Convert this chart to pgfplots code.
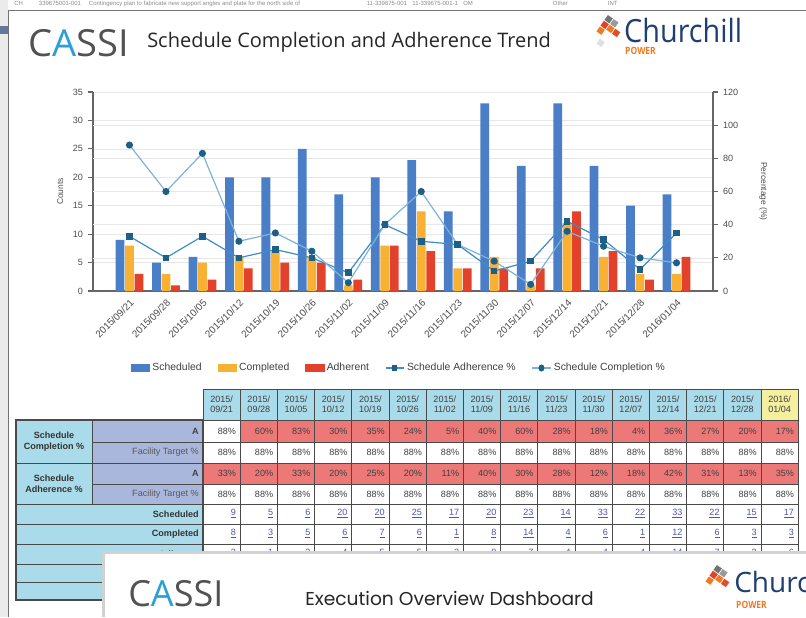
\documentclass[border=0pt]{standalone}
\usepackage{fontspec}
\setmainfont{Liberation Sans}
\newfontfamily\opensans{Open Sans}
\newfontfamily\poppins{Poppins}
\usepackage{pgfplots}
\usepackage{pgfplotstable}
\pgfplotsset{compat=1.18}
\definecolor{cSched}{HTML}{4A7EC7}
\definecolor{cComp}{HTML}{F8B133}
\definecolor{cAdh}{HTML}{E2412B}
\definecolor{cLineA}{HTML}{3E8DC4}
\definecolor{cLineC}{HTML}{7DB3D8}
\definecolor{cMark}{HTML}{1D5F86}
\definecolor{tblue}{HTML}{A9DBEA}
\definecolor{tlav}{HTML}{A9B7DC}
\definecolor{tred}{HTML}{EC7878}
\definecolor{tyel}{HTML}{F4F0A0}
\definecolor{tgrid}{HTML}{4A4A4A}
\definecolor{lnk}{HTML}{4A55B5}
\definecolor{navy}{HTML}{1F3F73}
\definecolor{corange}{HTML}{F07A22}
\definecolor{cassiblue}{HTML}{2A9FD8}

\pgfplotstableread{
x sched comp adh compp adhp
0 9 8 3 88 33
1 5 3 1 60 20
2 6 5 2 83 33
3 20 6 4 30 20
4 20 7 5 35 25
5 25 6 5 24 20
6 17 1 2 5 11
7 20 8 8 40 40
8 23 14 7 60 30
9 14 4 4 28 28
10 33 6 4 18 12
11 22 1 4 4 18
12 33 12 14 36 42
13 22 6 7 27 31
14 15 3 2 20 13
15 17 3 6 17 35
}\data

\def\cw{37.2}
\newcommand{\tf}{\fontsize{6.8}{7.6}\selectfont}

\begin{document}
\begin{tikzpicture}
\useasboundingbox (0pt,0pt) rectangle (604.5pt,-462.75pt);
\begin{scope}[x=0.75pt,y=-0.75pt]
\clip (0,0) rectangle (806,617);
\fill[white] (0,0) rectangle (806,617);
% background strips
\fill[black!8] (0,0) rectangle (8,617);
\fill[navy!70] (0,26) rectangle (8,34);
\node[anchor=west, font=\fontsize{4.5}{5}\selectfont, text=black!45, inner sep=0] at (14,4) {CH\hspace{12pt}339675001-001\hspace{6pt}Contingency plan to fabricate new support angles and plate for the north side of\hspace{50pt}11-339675-001\hspace{4pt}11-339675-001-1\hspace{4pt}OM\hspace{60pt}Other\hspace{30pt}INT};
\draw[black!55, line width=0.6pt] (8.5,10) -- (806,10);
\draw[black!55, line width=0.6pt] (8.5,10) -- (8.5,617);
% header
\node[anchor=west, inner sep=0, xscale=1.02, font=\opensans\fontsize{28}{29}\selectfont, text=black!68] at (28,43) {C\textcolor{cassiblue}{A}SSI};
\node[anchor=west, inner sep=0, font=\opensans\fontsize{15}{16}\selectfont, text=black!85] at (147,42) {Schedule Completion and Adherence Trend};
% churchill logo top
\begin{scope}[shift={(603,36)}]
\fill[black!55, rotate=-35] (-8,-20) rectangle ++(6,6);
\fill[black!40, rotate=-35] (-1,-20) rectangle ++(6,6);
\fill[cAdh, rotate=-35] (-8,-13) rectangle ++(6,6);
\fill[corange, rotate=-35] (-1,-13) rectangle ++(6,6);
\fill[corange, rotate=-35] (-8,-6) rectangle ++(6,6);
\fill[cAdh!80!corange, rotate=-35] (6,-13) rectangle ++(6,6);
\fill[black!12, rotate=-35] (-1,4) rectangle ++(6,6);
\end{scope}
\node[anchor=west, inner sep=0, xscale=0.9, font=\opensans\fontsize{24}{26}\selectfont, text=navy] at (624,31) {Churchill};
\node[anchor=west, inner sep=0, xscale=0.85, font=\opensans\bfseries\fontsize{7.5}{8}\selectfont, text=corange] at (625,51) {POWER};
% table header row
\foreach \d [count=\i from 0] in {09/21,09/28,10/05,10/12,10/19,10/26,11/02,11/09,11/16,11/23,11/30,12/07,12/14,12/21,12/28}{
  \filldraw[fill=tblue, draw=tgrid, line width=0.5pt] ({203+\cw*\i},389) rectangle ++(\cw,31);
  \node[align=center, font=\tf, text=black!75, inner sep=0] at ({203+\cw*\i+\cw/2},404.5) {2015/\\\d};
}
\filldraw[fill=tyel, draw=tgrid, line width=0.5pt] ({203+\cw*15},389) rectangle ++(\cw,31);
\node[align=center, font=\tf, text=black!75, inner sep=0] at ({203+\cw*15+\cw/2},404.5) {2016/\\01/04};
% row 1 completion A
\foreach \v/\c [count=\i from 0] in {88/white,60/tred,83/tred,30/tred,35/tred,24/tred,5/tred,40/tred,60/tred,28/tred,18/tred,4/tred,36/tred,27/tred,20/tred,17/tred}{
  \filldraw[fill=\c, draw=tgrid, line width=0.5pt] ({203+\cw*\i},420) rectangle ++(\cw,22);
  \node[anchor=east, font=\tf, text=black!75, inner sep=0] at ({203+\cw*\i+\cw-4},431) {\v\%};
}
% row 3 adherence A
\foreach \v [count=\i from 0] in {33,20,33,20,25,20,11,40,30,28,12,18,42,31,13,35}{
  \filldraw[fill=tred, draw=tgrid, line width=0.5pt] ({203+\cw*\i},463) rectangle ++(\cw,21);
  \node[anchor=east, font=\tf, text=black!75, inner sep=0] at ({203+\cw*\i+\cw-4},473.5) {\v\%};
}
% target rows
\foreach \i in {0,...,15}{
  \filldraw[fill=white, draw=tgrid, line width=0.5pt] ({203+\cw*\i},442) rectangle ++(\cw,21);
  \node[anchor=east, font=\tf, text=black!75, inner sep=0] at ({203+\cw*\i+\cw-4},452.5) {88\%};
  \filldraw[fill=white, draw=tgrid, line width=0.5pt] ({203+\cw*\i},484) rectangle ++(\cw,20);
  \node[anchor=east, font=\tf, text=black!75, inner sep=0] at ({203+\cw*\i+\cw-4},494) {88\%};
  \filldraw[fill=white, draw=tgrid, line width=0.5pt] ({203+\cw*\i},564) rectangle ++(\cw,18);
  \filldraw[fill=white, draw=tgrid, line width=0.5pt] ({203+\cw*\i},582) rectangle ++(\cw,18);
}
% count rows
\foreach \v [count=\i from 0] in {9,5,6,20,20,25,17,20,23,14,33,22,33,22,15,17}{
  \filldraw[fill=white, draw=tgrid, line width=0.5pt] ({203+\cw*\i},504) rectangle ++(\cw,20);
  \node[anchor=east, font=\tf, text=lnk, inner sep=0] at ({203+\cw*\i+\cw-4},514) {\underline{\v}};
}
\foreach \v [count=\i from 0] in {8,3,5,6,7,6,1,8,14,4,6,1,12,6,3,3}{
  \filldraw[fill=white, draw=tgrid, line width=0.5pt] ({203+\cw*\i},524) rectangle ++(\cw,20);
  \node[anchor=east, font=\tf, text=lnk, inner sep=0] at ({203+\cw*\i+\cw-4},534) {\underline{\v}};
}
\foreach \v [count=\i from 0] in {3,1,2,4,5,5,2,8,7,4,4,4,14,7,2,6}{
  \filldraw[fill=white, draw=tgrid, line width=0.5pt] ({203+\cw*\i},544) rectangle ++(\cw,20);
  \node[anchor=east, font=\tf, text=lnk, inner sep=0] at ({203+\cw*\i+\cw-4},554) {\underline{\v}};
}
% left label cells
\filldraw[fill=tblue, draw=tgrid, line width=0.6pt] (16,420) rectangle (92,463);
\node[align=center, font=\fontsize{6.8}{8.5}\selectfont\bfseries, text=black!80, inner sep=0] at (54,441.5) {Schedule\\Completion \%};
\filldraw[fill=tblue, draw=tgrid, line width=0.6pt] (16,463) rectangle (92,504);
\node[align=center, font=\fontsize{6.8}{8.5}\selectfont\bfseries, text=black!80, inner sep=0] at (54,483.5) {Schedule\\Adherence \%};
\filldraw[fill=tlav, draw=tgrid, line width=0.6pt] (92,420) rectangle (203,442);
\node[anchor=east, font=\tf\bfseries, text=black!75, inner sep=0] at (199,431) {A};
\filldraw[fill=tlav, draw=tgrid, line width=0.6pt] (92,442) rectangle (203,463);
\node[anchor=east, font=\tf, text=black!65, inner sep=0] at (199,452.5) {Facility Target \%};
\filldraw[fill=tlav, draw=tgrid, line width=0.6pt] (92,463) rectangle (203,484);
\node[anchor=east, font=\tf\bfseries, text=black!75, inner sep=0] at (199,473.5) {A};
\filldraw[fill=tlav, draw=tgrid, line width=0.6pt] (92,484) rectangle (203,504);
\node[anchor=east, font=\tf, text=black!65, inner sep=0] at (199,494) {Facility Target \%};
\filldraw[fill=tblue, draw=tgrid, line width=0.6pt] (16,504) rectangle (203,524);
\node[anchor=east, font=\tf\bfseries, text=black!80, inner sep=0] at (199,514) {Scheduled};
\filldraw[fill=tblue, draw=tgrid, line width=0.6pt] (16,524) rectangle (203,544);
\node[anchor=east, font=\tf\bfseries, text=black!80, inner sep=0] at (199,534) {Completed};
\filldraw[fill=tblue, draw=tgrid, line width=0.6pt] (16,544) rectangle (203,564);
\node[anchor=east, font=\tf\bfseries, text=black!80, inner sep=0] at (199,554) {Adherent};
\filldraw[fill=tblue, draw=tgrid, line width=0.6pt] (16,564) rectangle (203,582);
\filldraw[fill=tblue, draw=tgrid, line width=0.6pt] (16,582) rectangle (203,600);
\draw[tgrid, line width=0.9pt] (16,420) rectangle (203,600);
% overlay panel
\fill[black!18] (102,551) rectangle (806,617);
\fill[white] (105,554) rectangle (806,617);
\node[anchor=west, inner sep=0, font=\opensans\fontsize{27}{28}\selectfont, text=black!68] at (128,594) {C\textcolor{cassiblue}{A}SSI};
\node[anchor=west, inner sep=0, font=\poppins\fontsize{14}{15}\selectfont, text=black!85] at (305,598) {Execution Overview Dashboard};
\begin{scope}[shift={(712,586)}]
\fill[black!55, rotate=-35] (-8,-20) rectangle ++(6,6);
\fill[black!40, rotate=-35] (-1,-20) rectangle ++(6,6);
\fill[cAdh, rotate=-35] (-8,-13) rectangle ++(6,6);
\fill[corange, rotate=-35] (-1,-13) rectangle ++(6,6);
\fill[corange, rotate=-35] (-8,-6) rectangle ++(6,6);
\fill[cAdh!80!corange, rotate=-35] (6,-13) rectangle ++(6,6);
\end{scope}
\node[anchor=west, inner sep=0, font=\opensans\fontsize{21}{23}\selectfont, text=navy] at (734,582) {Churc};
\node[anchor=west, inner sep=0, xscale=0.85, font=\opensans\bfseries\fontsize{7.5}{8}\selectfont, text=corange] at (736,605) {POWER};
\end{scope}

% ---------- chart ----------
\begin{axis}[
  at={(69.75pt,-218.25pt)}, anchor=south west,
  scale only axis, width=465pt, height=149.25pt,
  xmin=-1, xmax=16, ymin=0, ymax=35,
  axis y line*=left, axis x line*=bottom,
  axis line style={-, draw=black!60, line width=0.8pt},
  xtick={0,...,15},
  xticklabels={2015/09/21,2015/09/28,2015/10/05,2015/10/12,2015/10/19,2015/10/26,2015/11/02,2015/11/09,2015/11/16,2015/11/23,2015/11/30,2015/12/07,2015/12/14,2015/12/21,2015/12/28,2016/01/04},
  x tick label style={rotate=45, anchor=north east, font=\fontsize{7.4}{8}\selectfont, text=black!70, inner sep=1pt},
  xtick style={draw=none},
  ytick={0,5,...,35},
  y tick label style={font=\fontsize{6.8}{7}\selectfont, text=black!70},
  /pgf/number format/assume math mode=true,
  tick align=outside, major tick length=4pt,
  ytick style={draw=black!60, line width=0.8pt},
  ymajorgrids, grid style={draw=black!9, line width=0.5pt},
  extra y ticks={5.8333,11.6667,17.5,23.3333,29.1667},
  extra y tick labels={},
  extra y tick style={grid=major, major tick length=0pt},
  ylabel={Counts},
  ylabel style={at={(axis description cs:-0.053,0.5)}, anchor=center, font=\fontsize{6.3}{7}\selectfont, text=black!70},
  clip=false,
]
\addplot[ybar, bar width=0.24, bar shift=-0.26, fill=cSched, draw=none] table[x=x,y=sched]{\data};
\addplot[ybar, bar width=0.24, bar shift=0, fill=cComp, draw=none] table[x=x,y=comp]{\data};
\addplot[ybar, bar width=0.24, bar shift=0.26, fill=cAdh, draw=none] table[x=x,y=adh]{\data};
\end{axis}

\begin{axis}[
  at={(69.75pt,-218.25pt)}, anchor=south west,
  scale only axis, width=465pt, height=149.25pt,
  xmin=-1, xmax=16, ymin=0, ymax=120,
  axis y line*=right, axis x line=none,
  axis line style={-, draw=black!60, line width=0.8pt},
  ytick={0,20,...,120},
  y tick label style={font=\fontsize{6.8}{7}\selectfont, text=black!70},
  /pgf/number format/assume math mode=true,
  tick align=outside, major tick length=4pt,
  ytick style={draw=black!60, line width=0.8pt},
  ylabel={Percentage (\%)},
  ylabel style={at={(axis description cs:1.081,0.5)}, anchor=center, rotate=180, font=\fontsize{6.3}{7}\selectfont, text=black!70},
  legend style={at={(0.494,-0.387)}, anchor=center, legend columns=5, draw=none, fill=none,
    font=\fontsize{7.8}{8}\selectfont, text=black!75,
    /tikz/every even column/.append style={column sep=10pt}},
  legend image post style={xscale=0.8},
  clip=false,
]
\addlegendimage{legend image code/.code={\fill[cSched] (0cm,-0.09cm) rectangle (0.6cm,0.09cm);}}
\addlegendentry{Scheduled}
\addlegendimage{legend image code/.code={\fill[cComp] (0cm,-0.09cm) rectangle (0.6cm,0.09cm);}}
\addlegendentry{Completed}
\addlegendimage{legend image code/.code={\fill[cAdh] (0cm,-0.09cm) rectangle (0.6cm,0.09cm);}}
\addlegendentry{Adherent}
\addplot[cLineA, line width=0.9pt, mark=square*, mark size=2pt, mark options={fill=cMark, draw=cMark}] table[x=x,y=adhp]{\data};
\addlegendentry{Schedule Adherence \%}
\addplot[cLineC, line width=0.9pt, mark=*, mark size=2.2pt, mark options={fill=cMark, draw=cMark}] table[x=x,y=compp]{\data};
\addlegendentry{Schedule Completion \%}
\end{axis}
\end{tikzpicture}
\end{document}
